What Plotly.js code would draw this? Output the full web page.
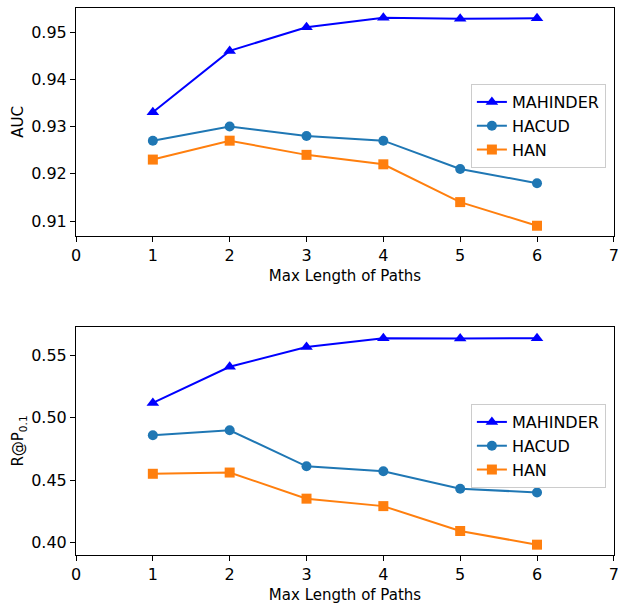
<!DOCTYPE html>
<html>
<head>
<meta charset="utf-8">
<script src="https://cdn.plot.ly/plotly-3.0.1.min.js"></script>
<style>html,body{margin:0;padding:0;background:#fff;}#chart{width:618px;height:606px;}</style>
</head>
<body>
<div id="chart"></div>
<script>
const pathLengths = [1, 2, 3, 4, 5, 6];
const seriesNames = ["MAHINDER", "HACUD", "HAN"];
const aucMahinder = [0.933, 0.946, 0.951, 0.953, 0.9528, 0.9529];
const aucHacud = [0.927, 0.930, 0.928, 0.927, 0.921, 0.918];
const aucHan = [0.923, 0.927, 0.924, 0.922, 0.914, 0.909];
const rpMahinder = [0.512, 0.541, 0.557, 0.564, 0.5638, 0.564];
const rpHacud = [0.486, 0.490, 0.461, 0.457, 0.443, 0.440];
const rpHan = [0.455, 0.456, 0.435, 0.429, 0.409, 0.398];
const xTicks = [0, 1, 2, 3, 4, 5, 6, 7];
const aucTicks = [0.91, 0.92, 0.93, 0.94, 0.95];
const rpTicks = [0.40, 0.45, 0.50, 0.55];

const colors = ["#0000ff", "#1f77b4", "#ff7f0e"];
const symbols = ["triangle-up", "circle", "square"];
const sizes = [11, 10, 10];

function mk(y, i, xa, ya, leg) {
  return {
    x: pathLengths, y: y, name: seriesNames[i], type: "scatter", mode: "lines+markers",
    xaxis: xa, yaxis: ya, legend: leg,
    line: {color: colors[i], width: 2},
    marker: {symbol: symbols[i], size: sizes[i], color: colors[i]}
  };
}
const data = [
  mk(aucMahinder, 0, "x", "y", "legend"),
  mk(aucHacud, 1, "x", "y", "legend"),
  mk(aucHan, 2, "x", "y", "legend"),
  mk(rpMahinder, 0, "x2", "y2", "legend2"),
  mk(rpHacud, 1, "x2", "y2", "legend2"),
  mk(rpHan, 2, "x2", "y2", "legend2")
];
const font = {family: "DejaVu Sans", size: 16, color: "#000"};
const titleFont = {family: "DejaVu Sans", size: 15, color: "#000"};
const axBase = {
  showline: true, linecolor: "#000", linewidth: 1, mirror: true, showgrid: false, zeroline: false,
  ticks: "outside", ticklen: 5, tickcolor: "#000", tickfont: font, ticklabeloverflow: "allow"
};
const legBase = {
  bgcolor: "rgba(255,255,255,0.9)", bordercolor: "#cccccc", borderwidth: 1,
  font: font, xanchor: "left", yanchor: "top", x: 0.734, tracegroupgap: 0
};
const layout = {
  width: 618, height: 606,
  margin: {l: 76, r: 4, t: 8, b: 51},
  paper_bgcolor: "#fff", plot_bgcolor: "#fff",
  font: font,
  showlegend: true,
  xaxis: Object.assign({}, axBase, {domain: [0, 1], range: [0, 7.002], tickvals: xTicks, anchor: "y",
    title: {text: "Max Length of Paths", font: titleFont, standoff: 6}}),
  yaxis: Object.assign({}, axBase, {domain: [0.5832, 1], range: [0.90683, 0.95508], tickvals: aucTicks, tickformat: ".2f", anchor: "x",
    title: {text: "AUC", font: titleFont, standoff: 3}}),
  xaxis2: Object.assign({}, axBase, {domain: [0, 1], range: [0, 7.002], tickvals: xTicks, anchor: "y2",
    title: {text: "Max Length of Paths", font: titleFont, standoff: 6}}),
  yaxis2: Object.assign({}, axBase, {domain: [0, 0.4168], range: [0.3897, 0.573], tickvals: rpTicks, tickformat: ".2f", anchor: "x2",
    title: {text: "R@P<sub>0.1</sub>", font: titleFont, standoff: 3}}),
  legend: Object.assign({}, legBase, {y: 0.861}),
  legend2: Object.assign({}, legBase, {y: 0.276})
};
Plotly.newPlot("chart", data, layout, {displayModeBar: false, staticPlot: true});
</script>
</body>
</html>
